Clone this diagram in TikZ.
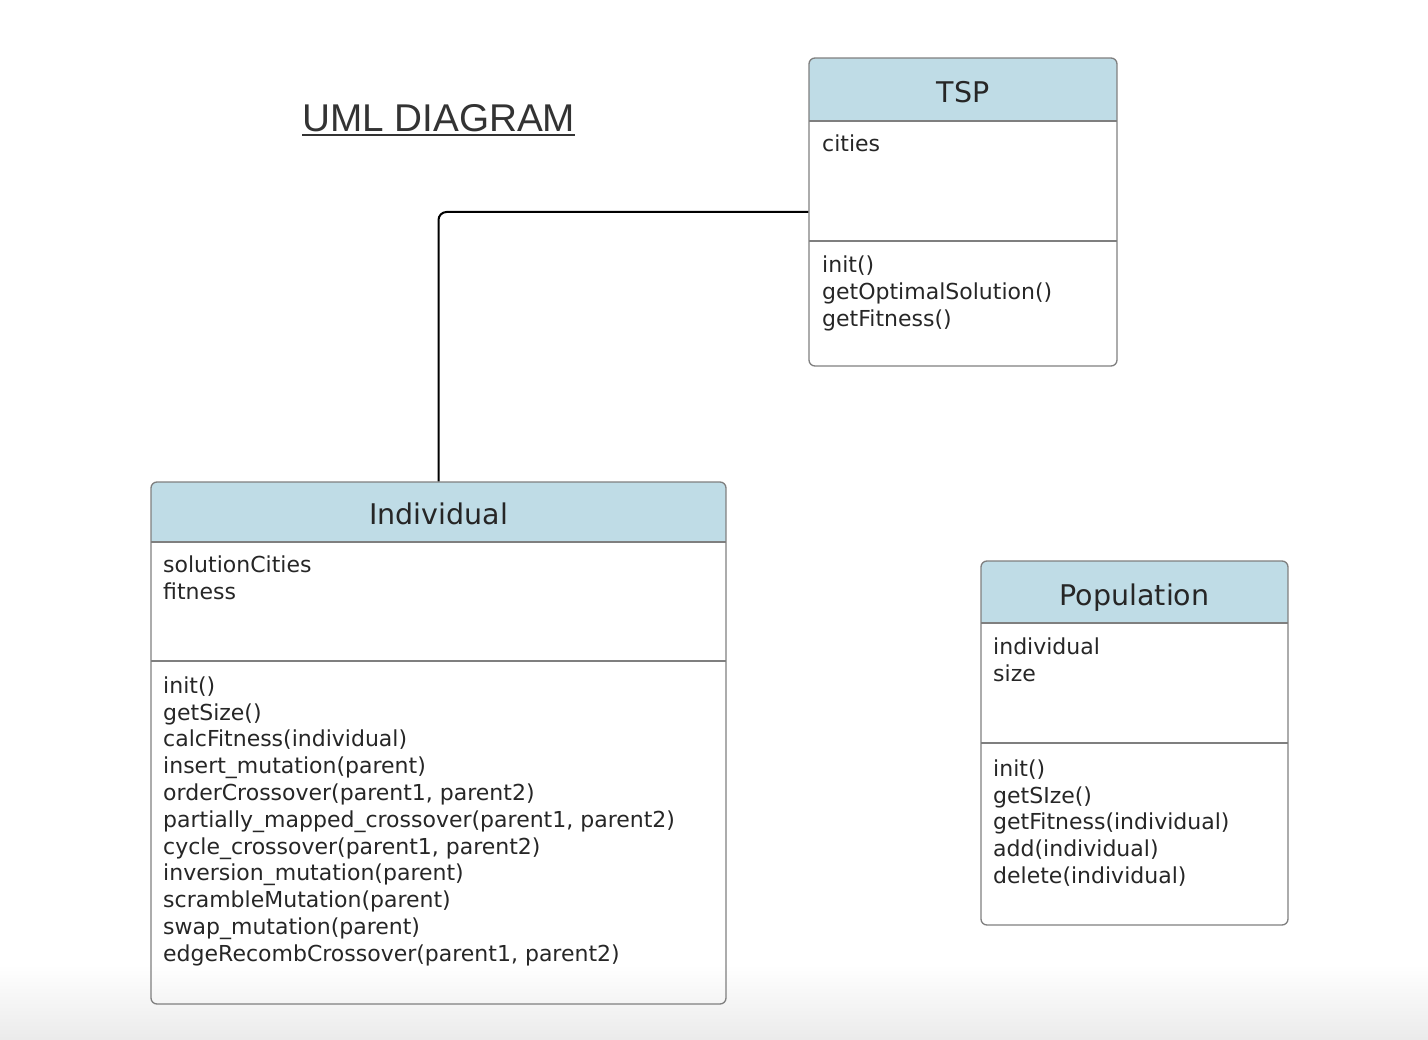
\documentclass[tikz,border=0pt]{standalone}
\usepackage{fontspec}
\setmainfont{DejaVu Sans}
\newfontfamily\titlefont{Liberation Sans}
\definecolor{hdr}{HTML}{BFDCE6}
\definecolor{bord}{HTML}{7F7F7F}
\definecolor{txt}{HTML}{262626}
\begin{document}
\begin{tikzpicture}[x=1pt,y=-1pt,
  classbox/.style={draw=bord, line width=1.3pt, rounded corners=6pt, inner sep=0pt},
  member/.style={anchor=north west, align=left, inner sep=0pt, text=txt, font=\fontsize{22}{26.8}\selectfont},
  head/.style={anchor=base, inner sep=0pt, text=txt, font=\fontsize{28.5}{30}\selectfont},
  divider/.style={draw=bord, line width=1.3pt},
  conn/.style={draw=black, line width=2pt, rounded corners=8pt}]
\useasboundingbox (0,0) rectangle (1428,1040);
\shade[top color=white, bottom color=black!8] (0,965) rectangle (1428,1040);

% Title
\node[anchor=base west, inner sep=0pt, text=black!80, font=\titlefont\fontsize{38.7}{42}\selectfont] (title) at (302,131.7) {UML DIAGRAM};
\draw[black!80, line width=2pt] ([yshift=-3pt]title.base west) -- ([yshift=-3pt]title.base east);

% TSP
\begin{scope}
  \clip[rounded corners=6pt] (809,58) rectangle (1117,366);
  \fill[hdr] (809,58) rectangle (1117,121);
\end{scope}
\node[classbox, minimum width=308pt, minimum height=308pt] (tsp) at (963,212) {};
\draw[divider] (809,121) -- (1117,121);
\draw[divider] (809,241) -- (1117,241);
\node[head] (tsph) at (963,103) {TSP};
\node[member] (tspa) at (822,132.94) {\strut cities};
\node[member] (tspm) at (822,253.94) {\strut init()\\getOptimalSolution()\\getFitness()};

% Individual
\begin{scope}
  \clip[rounded corners=6pt] (151,482) rectangle (726,1004);
  \fill[hdr] (151,482) rectangle (726,542);
\end{scope}
\node[classbox, minimum width=575pt, minimum height=522pt] (ind) at (438.5,743) {};
\draw[divider] (151,542) -- (726,542);
\draw[divider] (151,661) -- (726,661);
\node[head] (indh) at (438.5,524.3) {Individual};
\node[member] (inda) at (163,553.94) {\strut solutionCities\\fitness};
\node[member] (indm) at (163,674.24) {\strut init()\\getSize()\\calcFitness(individual)\\insert\_mutation(parent)\\orderCrossover(parent1, parent2)\\partially\_mapped\_crossover(parent1, parent2)\\cycle\_crossover(parent1, parent2)\\inversion\_mutation(parent)\\scrambleMutation(parent)\\swap\_mutation(parent)\\edgeRecombCrossover(parent1, parent2)};

% Population
\begin{scope}
  \clip[rounded corners=6pt] (981,561) rectangle (1288,925);
  \fill[hdr] (981,561) rectangle (1288,623);
\end{scope}
\node[classbox, minimum width=307pt, minimum height=364pt] (pop) at (1134.5,743) {};
\draw[divider] (981,623) -- (1288,623);
\draw[divider] (981,743) -- (1288,743);
\node[head] (poph) at (1134.5,605) {Population};
\node[member] (popa) at (993,635.24) {\strut individual\\size};
\node[member] (popm) at (993,757.24) {\strut init()\\getSIze()\\getFitness(individual)\\add(individual)\\delete(individual)};

% Connector
\draw[conn] (tsp.west) -| (ind.north);
\end{tikzpicture}
\end{document}
